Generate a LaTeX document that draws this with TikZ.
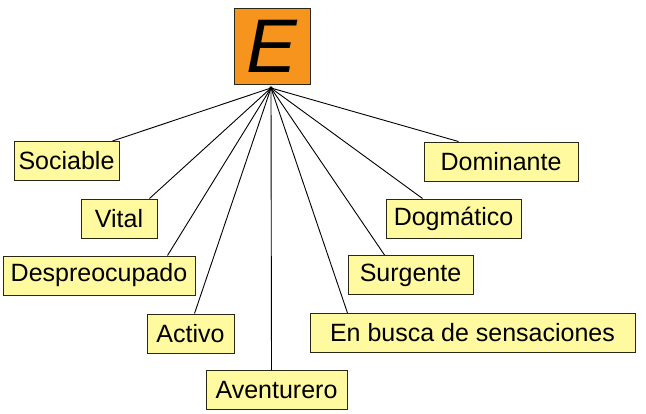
\documentclass[tikz,border=0pt]{standalone}
\usepackage{fontspec}
\setmainfont{Liberation Sans}
\definecolor{boxyellow}{RGB}{255,250,160}
\definecolor{eorange}{RGB}{247,148,30}
\definecolor{boxline}{RGB}{40,40,20}
\begin{document}
\begin{tikzpicture}[x=1pt,y=-1pt,
  trait/.style={draw=boxline,line width=1pt,fill=boxyellow,inner sep=0pt,
    minimum height=39pt,font=\fontsize{25}{30}\selectfont,text=black},
  link/.style={draw=black,line width=0.9pt}]
\useasboundingbox (0,0) rectangle (646,413);
\node[draw=boxline,line width=1pt,fill=eorange,minimum width=76pt,minimum height=76pt,inner sep=0pt,
  font=\fontsize{76}{84}\itshape\selectfont] (E) at (272,46) {E};
\coordinate (hub) at (271,88);
\node[trait,minimum width=105pt] (soc) at (66.5,161) {Sociable};
\node[trait,minimum width=76pt] (vit) at (119,218.5) {Vital};
\node[trait,minimum width=192pt] (des) at (99,275.5) {Despreocupado};
\node[trait,minimum width=87pt] (act) at (190.5,333.5) {Activo};
\node[trait,minimum width=141pt] (ave) at (276.5,390) {Aventurero};
\node[trait,minimum width=325pt] (ebs) at (472.5,333) {En busca de sensaciones};
\node[trait,minimum width=125pt] (sur) at (410.5,275) {Surgente};
\node[trait,minimum width=135pt] (dog) at (453.5,218.5) {Dogmático};
\node[trait,minimum width=154pt] (dom) at (501,161.5) {Dominante};
\fill (hub) circle (1.8pt);
\draw[link] (hub) -- ([xshift=99pt]soc.north west);
\draw[link] (hub) -- ([xshift=69pt]vit.north west);
\draw[link] (hub) -- ([xshift=165pt]des.north west);
\draw[link] (hub) -- ([xshift=48pt]act.north west);
\draw[link] (hub) -- ([xshift=66pt]ave.north west);
\draw[link] (hub) -- ([xshift=38pt]ebs.north west);
\draw[link] (hub) -- ([xshift=37pt]sur.north west);
\draw[link] (hub) -- ([xshift=37pt]dog.north west);
\draw[link] (hub) -- ([xshift=35pt]dom.north west);
\end{tikzpicture}
\end{document}
